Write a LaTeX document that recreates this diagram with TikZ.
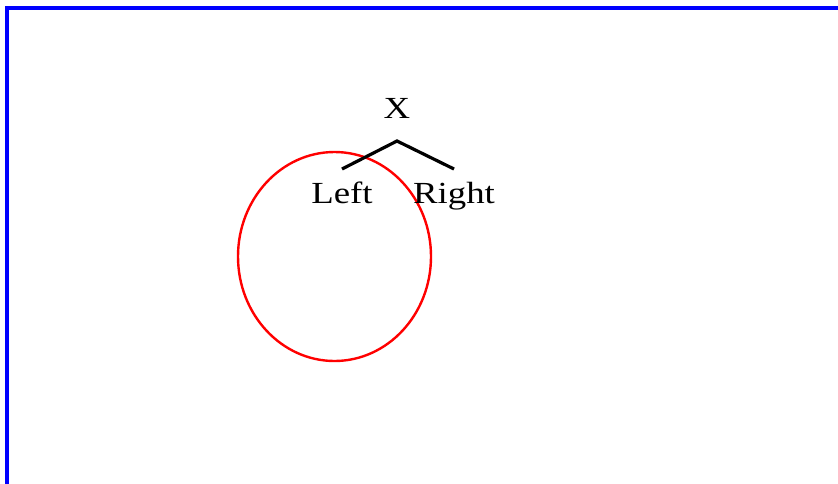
\documentclass[tikz,border=0pt]{standalone}
\usepackage{fontspec}
\setmainfont{Liberation Serif}
\begin{document}
\begin{tikzpicture}[x=0.75pt,y=-0.75pt,
  lbl/.style={anchor=base,inner sep=0pt,font=\fontsize{23}{24}\selectfont},
  branch/.style={line width=2.4pt,black},
  frame/.style={line width=2.4pt,blue}]
\useasboundingbox (0,0) rectangle (838,483);
\draw[frame] (7,490) -- (7,8) -- (845,8);
\draw[red,line width=1.8pt] (334.5,256.5) ellipse [x radius=96.5,y radius=104.5];
\node[lbl] (x) at (397,118) {\scalebox{1.2}[1]{X}};
\node[lbl] (l) at (342,203) {\scalebox{1.2}[1]{Left}};
\node[lbl] (r) at (454,203) {\scalebox{1.2}[1]{Right}};
\coordinate (apex) at (397,141);
\coordinate (le) at (342,169);
\coordinate (re) at (454,169);
\draw[branch] (le) -- (apex) -- (re);
\end{tikzpicture}
\end{document}
